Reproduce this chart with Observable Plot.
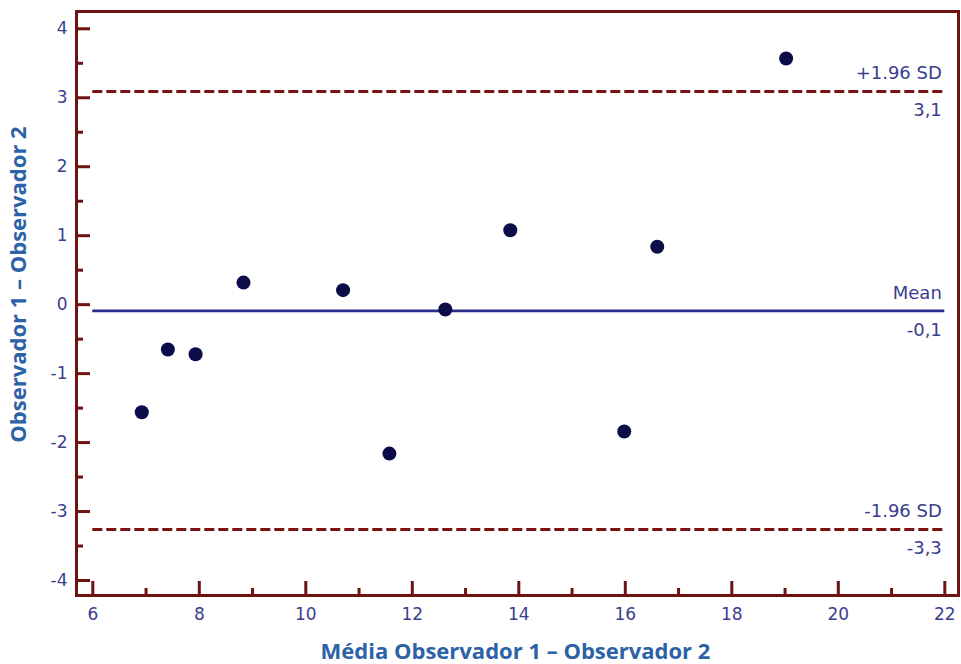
<!DOCTYPE html>
<html>
<head>
<meta charset="utf-8">
<script src="https://cdn.jsdelivr.net/npm/d3@7"></script>
<script src="https://cdn.jsdelivr.net/npm/@observablehq/plot@0.6"></script>
<style>
  html, body { margin: 0; padding: 0; background: #fff; }
</style>
</head>
<body>
<div id="chart"></div>
<script>
// Bland–Altman: mean of the two observers vs. their difference
const avgValues  = [6.92, 7.41, 7.93, 8.83, 10.70, 11.57, 12.62, 13.84, 15.98, 16.60, 19.02];
const diffValues = [-1.56, -0.65, -0.72, 0.32, 0.21, -2.16, -0.07, 1.08, -1.84, 0.84, 3.57];

// Agreement limits
const limitNames  = ["+1.96 SD", "Mean", "-1.96 SD"];
const limitValues = [3.09, -0.09, -3.26];

// Axis ticks
const xMajor = [6, 8, 10, 12, 14, 16, 18, 20, 22];
const xMinor = [7, 9, 11, 13, 15, 17, 19, 21];
const yMajor = [-4, -3, -2, -1, 0, 1, 2, 3, 4];
const yMinor = [-3.5, -2.5, -1.5, -0.5, 0.5, 1.5, 2.5, 3.5];

const xTitle = "Média Observador 1 – Observador 2";
const yTitle = "Observador 1 – Observador 2";

const points = avgValues.map((x, i) => ({x, y: diffValues[i]}));
const limits = limitNames.map((name, i) => ({
  name,
  value: limitValues[i],
  label: limitValues[i].toFixed(1).replace(".", ","),
  dashed: name !== "Mean"
}));

const W = 961, H = 664;
const mL = 76, mR = 3, mT = 11, mB = 69;
const innerW = W - mL - mR, innerH = H - mT - mB;

const axisRed = "#6e1212";
const dashRed = "#7a1414";
const textBlue = "#3b3d8e";
const titleBlue = "#2c62a6";
const lineBlue = "#2b2d8c";
const dotNavy = "#0c0c48";
const tickFont = "DejaVu Sans, Liberation Sans, sans-serif";
const titleFont = "Open Sans, Lato, sans-serif";

const xStart = xMajor[0], xEnd = xMajor[xMajor.length - 1];

const chart = Plot.plot({
  width: W,
  height: H,
  marginLeft: mL,
  marginRight: mR,
  marginTop: mT,
  marginBottom: mB,
  style: {color: textBlue, fontFamily: tickFont, fontSize: "17px", background: "#fff"},
  x: {domain: [5.694, 22.257]},
  y: {domain: [-4.2175, 4.251]},
  marks: [
    // tick labels
    Plot.axisX({ticks: xMajor, tickSize: 0, tickPadding: 12, label: null, fontSize: 17, tickFormat: d => String(d)}),
    Plot.axisY({ticks: yMajor, tickSize: 0, tickPadding: 9, label: null, fontSize: 17, tickFormat: d => String(d)}),

    // limits of agreement
    Plot.ruleY(limits.filter(d => d.dashed), {y: "value", x1: xStart, x2: xEnd, stroke: dashRed, strokeWidth: 3, strokeDasharray: "10,4"}),
    Plot.ruleY(limits.filter(d => !d.dashed), {y: "value", x1: xStart, x2: xEnd, stroke: lineBlue, strokeWidth: 2.6}),
    Plot.text(limits, {x: xEnd, y: "value", text: "name", textAnchor: "end", dx: -3, dy: -18, fill: textBlue, fontSize: 18}),
    Plot.text(limits, {x: xEnd, y: "value", text: "label", textAnchor: "end", dx: -3, dy: 19, fill: textBlue, fontSize: 18}),

    // observations
    Plot.dot(points, {x: "x", y: "y", r: 7, fill: dotNavy, stroke: "none"}),

    // inward ticks
    Plot.tickY(yMajor, {y: d => d, insetRight: innerW - 14, stroke: axisRed, strokeWidth: 3}),
    Plot.tickY(yMinor, {y: d => d, insetRight: innerW - 7, stroke: axisRed, strokeWidth: 3}),
    Plot.tickX(xMajor, {x: d => d, insetTop: innerH - 14, stroke: axisRed, strokeWidth: 3}),
    Plot.tickX(xMinor, {x: d => d, insetTop: innerH - 7, stroke: axisRed, strokeWidth: 3}),

    Plot.frame({stroke: axisRed, strokeWidth: 3}),

    // axis titles
    Plot.text([xTitle], {frameAnchor: "bottom", textAnchor: "middle", dy: 63, dx: -2, text: d => d, fill: titleBlue, fontFamily: titleFont, fontWeight: "bold", fontSize: 22}),
    Plot.text([yTitle], {frameAnchor: "left", textAnchor: "middle", rotate: -90, dx: -58, dy: -19, text: d => d, fill: titleBlue, fontFamily: titleFont, fontWeight: "bold", fontSize: 22})
  ]
});

document.getElementById("chart").appendChild(chart);
</script>
</body>
</html>
